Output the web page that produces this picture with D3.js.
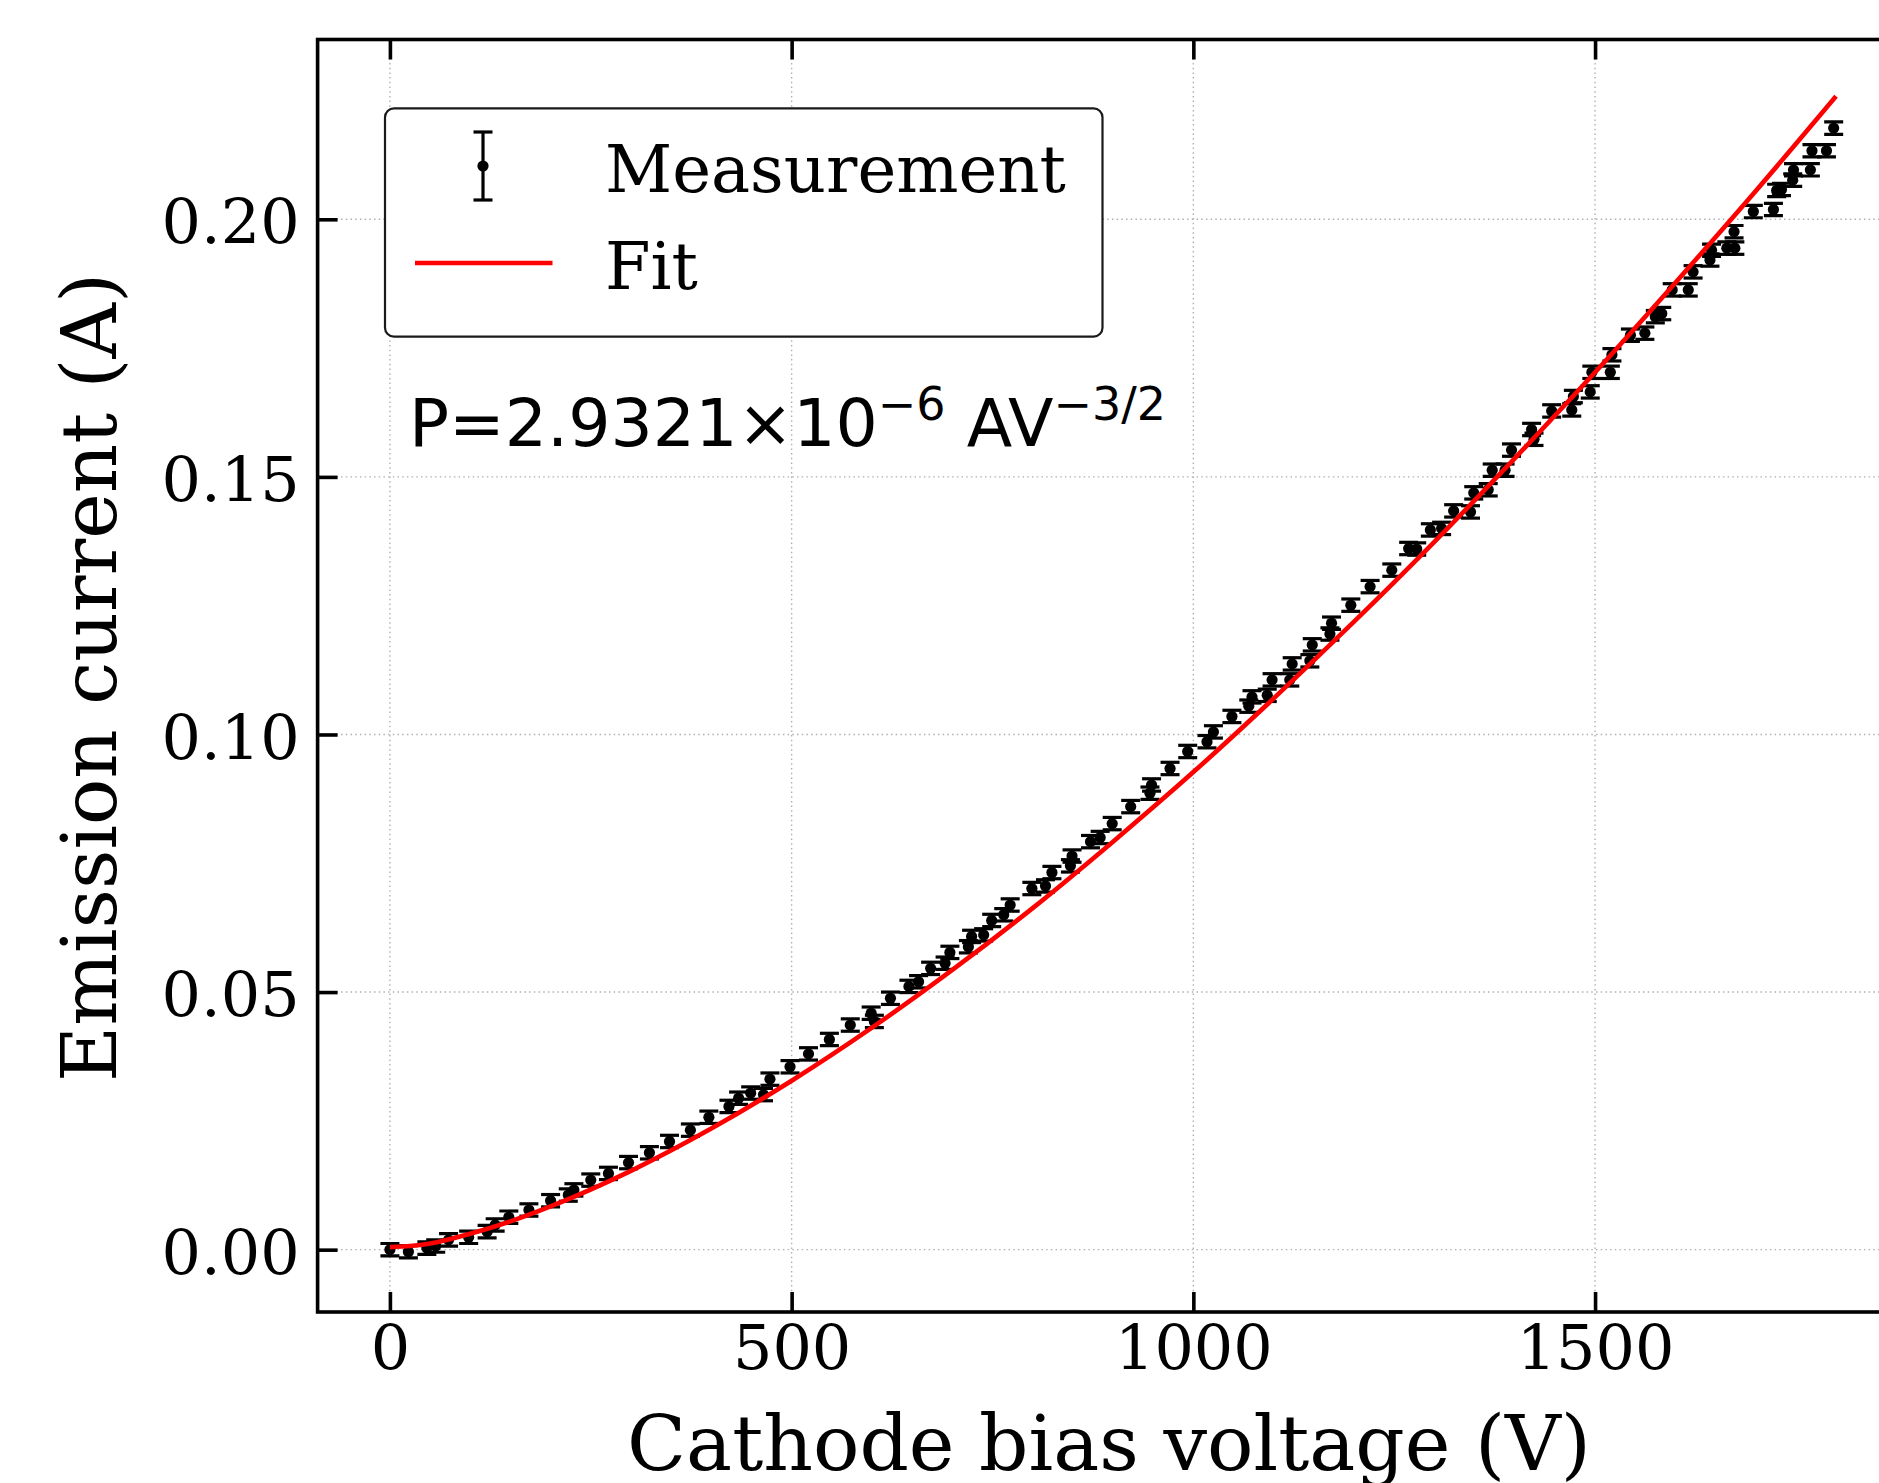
<!DOCTYPE html>
<html>
<head>
<meta charset="utf-8">
<script src="https://cdn.jsdelivr.net/npm/d3@7"></script>
<style>
  body { margin: 0; background: #fff; }
  svg { display: block; }
</style>
</head>
<body>
<svg id="chart"></svg>
<script>
var voltage = [0, 23, 46, 57, 73, 98, 121, 131, 148, 173, 200, 222, 229, 250, 272, 297,
  323, 348, 374, 397, 422, 434, 449, 465, 473, 498, 521, 547, 573, 599, 603,
  623, 646, 658, 673, 691, 697, 720, 724, 739, 749, 764, 772, 799, 816, 824, 847, 849, 872, 884, 899,
  922, 946, 948, 971, 993, 1017, 1025, 1048, 1069, 1073, 1092, 1098, 1120, 1123, 1145, 1148, 1170, 1172, 1196,
  1220, 1247, 1268, 1278, 1295, 1309, 1324, 1345, 1349, 1367, 1372, 1388, 1396, 1421, 1424, 1446,
  1471, 1473, 1494, 1496, 1519, 1521, 1544, 1562, 1575, 1583, 1596, 1616, 1622, 1643, 1645,
  1664, 1673, 1674, 1697, 1722, 1726, 1732, 1746, 1747, 1768, 1770, 1788, 1797];
var current = [0.0000, -0.0004, 0.0003, 0.0007, 0.0019, 0.0024, 0.0035, 0.0048, 0.0063, 0.0077, 0.0095, 0.0106, 0.0116, 0.0135, 0.0148, 0.0169,
  0.0188, 0.0210, 0.0232, 0.0257, 0.0278, 0.0294, 0.0304, 0.0301, 0.0331, 0.0355, 0.0380, 0.0408, 0.0436, 0.0459, 0.0443,
  0.0488, 0.0511, 0.0520, 0.0546, 0.0556, 0.0577, 0.0588, 0.0608, 0.0611, 0.0639, 0.0650, 0.0669, 0.0701, 0.0706, 0.0732, 0.0745, 0.0764, 0.0792, 0.0800, 0.0827,
  0.0860, 0.0886, 0.0902, 0.0934, 0.0967, 0.0986, 0.1005, 0.1035, 0.1055, 0.1073, 0.1076, 0.1106, 0.1106, 0.1137, 0.1143, 0.1174, 0.1195, 0.1216, 0.1251,
  0.1287, 0.1319, 0.1361, 0.1360, 0.1397, 0.1400, 0.1434, 0.1432, 0.1469, 0.1475, 0.1513, 0.1513, 0.1552, 0.1592, 0.1573, 0.1628,
  0.1630, 0.1656, 0.1665, 0.1703, 0.1703, 0.1737, 0.1775, 0.1779, 0.1811, 0.1817, 0.1863, 0.1863, 0.1898, 0.1921, 0.1940,
  0.1944, 0.1976, 0.1944, 0.2015, 0.2019, 0.2056, 0.2058, 0.2076, 0.2096, 0.2096, 0.2133, 0.2133, 0.2177];
var currentErr = 0.0012;

// fit curve as drawn
var fitV = [0, 25, 50, 100, 150, 200, 300, 400, 500, 600, 700, 800, 900, 1000, 1100, 1200, 1300, 1400, 1500, 1600, 1700, 1800];
var fitI = [0.0005, 0.0007, 0.0012, 0.0031, 0.0055, 0.0084, 0.0153, 0.0235, 0.0328, 0.0431, 0.0543, 0.0663, 0.0792, 0.0927,
  0.1070, 0.1219, 0.1374, 0.1536, 0.1703, 0.1877, 0.2055, 0.2239];

var xTicks = [0, 500, 1000, 1500];
var yTicks = [0.00, 0.05, 0.10, 0.15, 0.20];
var legendLabels = ["Measurement", "Fit"];

(function() {
var W = 1879, H = 1483;
var svg = d3.select("#chart").attr("width", W).attr("height", H);

var pL = 317.6, pR = 1908.4, pT = 39.5, pB = 1312;
var x = d3.scaleLinear().domain([-90, 1890]).range([pL, pR]);
var y = d3.scaleLinear().domain([-0.0121, 0.2349]).range([pB, pT]);

var serif = "DejaVu Serif, serif";

var plot = svg.append("g");
plot.append("clipPath").attr("id", "clip")
  .append("rect").attr("x", pL).attr("y", pT).attr("width", pR - pL).attr("height", pB - pT);

// grid
var grid = plot.append("g").attr("stroke", "#b0b0b0").attr("stroke-width", 1.4)
  .attr("stroke-dasharray", "1.5,3.2");
grid.selectAll(".gx").data(xTicks).enter().append("line")
  .attr("x1", d => x(d)).attr("x2", d => x(d)).attr("y1", pT).attr("y2", pB);
grid.selectAll(".gy").data(yTicks).enter().append("line")
  .attr("y1", d => y(d)).attr("y2", d => y(d)).attr("x1", pL).attr("x2", pR);

// error bars + markers
var pts = voltage.map((v, i) => ({ v: v, c: current[i] }));
var eb = plot.append("g").attr("clip-path", "url(#clip)");
var cap = 9.5, barW = 3.2, mr = 5.6;
pts.forEach(function(d) {
  var cx = x(d.v), y1 = y(d.c - currentErr), y2 = y(d.c + currentErr);
  var g = eb.append("g").attr("stroke", "#000").attr("stroke-width", barW);
  g.append("line").attr("x1", cx).attr("x2", cx).attr("y1", y1).attr("y2", y2);
  g.append("line").attr("x1", cx - cap).attr("x2", cx + cap).attr("y1", y1).attr("y2", y1);
  g.append("line").attr("x1", cx - cap).attr("x2", cx + cap).attr("y1", y2).attr("y2", y2);
});
eb.selectAll("circle").data(pts).enter().append("circle")
  .attr("cx", d => x(d.v)).attr("cy", d => y(d.c)).attr("r", mr).attr("fill", "#000");

// fit line
var line = d3.line().x((d, i) => x(fitV[i])).y(d => y(d)).curve(d3.curveMonotoneX);
plot.append("path").datum(fitI).attr("d", line).attr("fill", "none")
  .attr("stroke", "#ff0000").attr("stroke-width", 4.6).attr("clip-path", "url(#clip)");

// axes (ticks inward)
var tickFont = 62;
var ax = svg.append("g").attr("transform", "translate(0," + pB + ")")
  .call(d3.axisBottom(x).tickValues(xTicks).tickFormat(d3.format("d")).tickSize(-20).tickPadding(13));
var axTop = svg.append("g").attr("transform", "translate(0," + pT + ")")
  .call(d3.axisTop(x).tickValues(xTicks).tickFormat("").tickSize(-20));
var ay = svg.append("g").attr("transform", "translate(" + pL + ",0)")
  .call(d3.axisLeft(y).tickValues(yTicks).tickFormat(d3.format(".2f")).tickSize(-20).tickPadding(18));
[ax, axTop, ay].forEach(function(a) {
  a.select(".domain").remove();
  a.selectAll(".tick line").attr("stroke", "#000").attr("stroke-width", 3.6);
  a.selectAll(".tick text").attr("font-family", serif).attr("font-size", tickFont).attr("fill", "#000");
});
ay.selectAll(".tick text").attr("dy", "0.38em");

// frame
svg.append("rect").attr("x", pL).attr("y", pT).attr("width", pR - pL).attr("height", pB - pT)
  .attr("fill", "none").attr("stroke", "#000").attr("stroke-width", 3.6);

// fit text width helper
function fitWidth(sel, target) {
  var w = sel.node().getComputedTextLength();
  var fs = parseFloat(sel.attr("font-size"));
  sel.attr("font-size", (fs * target / w).toFixed(2));
}

// axis labels
var xl = svg.append("text").attr("x", (pL + pR) / 2 - 4).attr("y", 1470)
  .attr("text-anchor", "middle").attr("font-family", serif).attr("font-size", 80)
  .text("Cathode bias voltage (V)");
fitWidth(xl, 964);
var yl = svg.append("text").attr("transform", "translate(116," + 677.5 + ") rotate(-90)")
  .attr("text-anchor", "middle").attr("font-family", serif).attr("font-size", 80)
  .text("Emission current (A)");
fitWidth(yl, 809);

// legend
var lg = svg.append("g");
lg.append("rect").attr("x", 385).attr("y", 108.3).attr("width", 717.5).attr("height", 228.4)
  .attr("rx", 9).attr("fill", "#fff").attr("stroke", "#1a1a1a").attr("stroke-width", 2.2);
var hx = 483;
var hg = lg.append("g").attr("stroke", "#000").attr("stroke-width", barW);
hg.append("line").attr("x1", hx).attr("x2", hx).attr("y1", 132).attr("y2", 200);
hg.append("line").attr("x1", hx - cap).attr("x2", hx + cap).attr("y1", 132).attr("y2", 132);
hg.append("line").attr("x1", hx - cap).attr("x2", hx + cap).attr("y1", 200).attr("y2", 200);
lg.append("circle").attr("cx", hx).attr("cy", 166).attr("r", mr).attr("fill", "#000");
lg.append("line").attr("x1", 415).attr("x2", 552.5).attr("y1", 263).attr("y2", 263)
  .attr("stroke", "#ff0000").attr("stroke-width", 4.6);
var t1 = lg.append("text").attr("x", 605).attr("y", 192).attr("font-family", serif).attr("font-size", 70)
  .text(legendLabels[0]);
fitWidth(t1, 461);
lg.append("text").attr("x", 605).attr("y", 289).attr("font-family", serif).attr("font-size", t1.attr("font-size"))
  .text(legendLabels[1]);

// fit parameter annotation
var ann = svg.append("text").attr("x", 409).attr("y", 446).attr("font-family", "DejaVu Sans, sans-serif")
  .attr("font-size", 64);
ann.append("tspan").text("P=2.9321\u00d710");
ann.append("tspan").attr("font-size", 46).attr("dy", -26).text("\u22126");
ann.append("tspan").attr("dy", 26).text(" AV");
ann.append("tspan").attr("font-size", 46).attr("dy", -26).text("\u22123/2");
fitWidth(ann, 764);
})();
</script>
</body>
</html>
